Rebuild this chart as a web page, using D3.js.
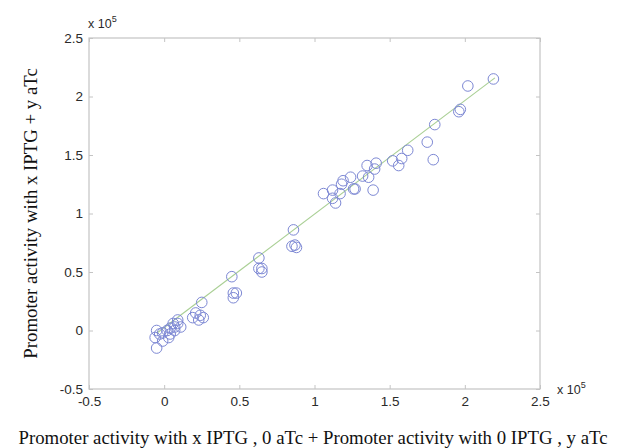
<!DOCTYPE html>
<html><head><meta charset="utf-8">
<script src="https://cdn.jsdelivr.net/npm/d3@7"></script>
<style>body{margin:0;background:#fff}svg{display:block}</style>
</head><body>
<script>
// values in units of 1e5
const xValues = [2.19,2.02,1.96,1.97,1.80,1.75,1.79,1.62,1.58,1.52,1.56,1.41,1.40,1.35,1.39,1.36,1.32,1.24,1.26,1.19,1.18,1.17,1.12,1.06,1.12,1.14,1.27,
  0.86,0.85,0.88,0.87,0.63,0.63,0.65,0.65,0.45,0.46,0.48,0.46,0.25,0.21,0.24,0.26,0.19,0.23,
  0.09,0.07,0.06,0.09,0.04,0.02,-0.01,-0.03,-0.05,-0.06,0.03,-0.01,-0.05,0.04,0.07,0.11];
const yValues = [2.15,2.09,1.87,1.89,1.76,1.61,1.46,1.54,1.47,1.45,1.41,1.43,1.38,1.41,1.20,1.31,1.32,1.31,1.21,1.28,1.25,1.17,1.20,1.17,1.13,1.09,1.21,
  0.86,0.72,0.71,0.73,0.62,0.53,0.53,0.50,0.46,0.32,0.32,0.28,0.24,0.15,0.13,0.11,0.11,0.09,
  0.06,0.03,0.06,0.09,0.02,0.00,-0.02,-0.03,0.00,-0.06,-0.06,-0.09,-0.15,-0.03,0.00,0.03];
const fitX = [-0.05, 2.2];
const fitY = [-0.024, 2.159];
const ticks = [-0.5,0,0.5,1,1.5,2,2.5];
const tickLabels = ["-0.5","0","0.5","1","1.5","2","2.5"];
const xLabel = "Promoter activity with x IPTG , 0 aTc + Promoter activity with 0 IPTG , y aTc";
const yLabel = "Promoter activity with x IPTG + y aTc";

const W = 627, H = 448;
const m = {l: 89, r: 540, t: 38, b: 389};
const svg = d3.select("body").append("svg").attr("width", W).attr("height", H);
const x = d3.scaleLinear().domain([-0.5, 2.5]).range([m.l, m.r]);
const y = d3.scaleLinear().domain([-0.5, 2.5]).range([m.b, m.t]);
const frame = "#c4c4c4";
const tickFont = "Liberation Sans, Arial, sans-serif";

// frame
svg.append("rect").attr("x", m.l).attr("y", m.t).attr("width", m.r - m.l).attr("height", m.b - m.t)
  .attr("fill", "none").attr("stroke", frame).attr("stroke-width", 1.2);

const fmt = (d) => tickLabels[ticks.indexOf(d)];
const ax = (gen, tx, ty) => {
  const g = svg.append("g").attr("transform", `translate(${tx},${ty})`)
    .call(gen.tickValues(ticks).tickFormat(fmt));
  g.select(".domain").remove();
  g.selectAll("line").attr("stroke", frame);
  g.selectAll("text").attr("fill", "#2a2a2a").style("font-family", tickFont).style("font-size", "13.5px");
  return g;
};
ax(d3.axisBottom(x).tickSize(-4).tickPadding(7), 0, m.b);
ax(d3.axisLeft(y).tickSize(-4).tickPadding(6), m.l, 0);
ax(d3.axisTop(x).tickSize(-4), 0, m.t).selectAll("text").remove();
ax(d3.axisRight(y).tickSize(-4), m.r, 0).selectAll("text").remove();

// fit line
svg.append("line").attr("x1", x(fitX[0])).attr("y1", y(fitY[0])).attr("x2", x(fitX[1])).attr("y2", y(fitY[1]))
  .attr("stroke", "#a9cf94").attr("stroke-width", 1.1);

// points
svg.append("g").selectAll("circle").data(xValues.map((v, i) => [v, yValues[i]])).join("circle")
  .attr("cx", d => x(d[0])).attr("cy", d => y(d[1])).attr("r", 5.3)
  .attr("fill", "none").attr("stroke", "#7d88d4").attr("stroke-width", 1);

// exponent labels
const expo = (tx, ty) => {
  const t = svg.append("text").attr("x", tx).attr("y", ty).attr("fill", "#2a2a2a")
    .style("font-family", tickFont).style("font-size", "12.5px");
  t.append("tspan").text("x 10");
  t.append("tspan").attr("dy", -6).style("font-size", "9px").text("5");
};
expo(88, 28);
expo(557, 394);

// axis labels
svg.append("text").attr("x", 313).attr("y", 444).attr("text-anchor", "middle")
  .style("font-family", "Liberation Serif, Times New Roman, serif").style("font-size", "18.8px").attr("fill", "#111")
  .text(xLabel);
svg.append("text").attr("transform", `translate(37,${(m.t + m.b) / 2}) rotate(-90)`).attr("text-anchor", "middle")
  .style("font-family", "Liberation Serif, Times New Roman, serif").style("font-size", "18.8px").attr("fill", "#111")
  .text(yLabel);
</script>
</body></html>
